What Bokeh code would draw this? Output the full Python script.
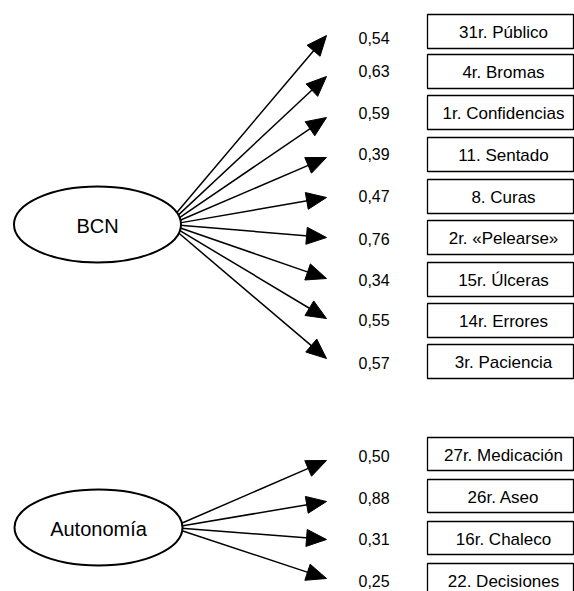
import numpy as np
from bokeh.plotting import figure
from bokeh.models import Range1d
from bokeh.embed import file_html
from bokeh.resources import INLINE
from bokeh.core.properties import value

# ---------------- data ----------------
factors = ["BCN", "Autonomía"]
bcn_items = ["31r. Público", "4r. Bromas", "1r. Confidencias", "11. Sentado",
             "8. Curas", "2r. «Pelearse»", "15r. Úlceras", "14r. Errores",
             "3r. Paciencia"]
bcn_loadings = [0.54, 0.63, 0.59, 0.39, 0.47, 0.76, 0.34, 0.55, 0.57]
aut_items = ["27r. Medicación", "26r. Aseo", "16r. Chaleco", "22. Decisiones"]
aut_loadings = [0.50, 0.88, 0.31, 0.25]

# ---------------- layout (pixel-like coordinates) ----------------
groups = [
    dict(name=factors[0], items=bcn_items, loads=bcn_loadings,
         cx=97, cy=224, ew=167, eh=76,
         tips=[35, 76, 117, 157, 197, 237, 278, 318, 358],
         labs=[37, 70, 112, 153, 195, 238, 279, 319, 362],
         tops=[14, 54, 95, 137, 179, 220, 262, 303, 344], bh=34),
    dict(name=factors[1], items=aut_items, loads=aut_loadings,
         cx=98, cy=527, ew=168, eh=76,
         tips=[460, 501, 539, 578],
         labs=[455, 497, 538, 580],
         tops=[437, 479, 521, 563], bh=33),
]
TIP_X = 326
LAB_X = 358
BOX_L, BOX_R = 427, 573
BOX_TX = 503
HEAD_L, HEAD_W = 20, 8.5
FONT = "Liberation Sans"

W, H = 574, 591
p = figure(width=W, height=H, x_range=Range1d(0, W), y_range=Range1d(H, 0),
           output_backend="svg", toolbar_location=None, min_border=0,
           x_axis_type=None, y_axis_type=None)
p.grid.visible = False
p.outline_line_color = None
p.background_fill_color = "white"
p.border_fill_color = "white"

for g in groups:
    cx, cy, a, b = g["cx"], g["cy"], g["ew"] / 2, g["eh"] / 2
    tips_y = np.array(g["tips"], dtype=float)
    sy = cy + (tips_y - cy) * 0.06
    sx = cx + a * np.sqrt(1 - ((sy - cy) / b) ** 2) - 1
    tx = np.full_like(tips_y, TIP_X)
    dx, dy = tx - sx, tips_y - sy
    ln = np.hypot(dx, dy)
    ux, uy = dx / ln, dy / ln
    bx, by = tx - ux * HEAD_L, tips_y - uy * HEAD_L
    # shafts
    p.segment(x0=sx, y0=sy, x1=bx + ux * 2, y1=by + uy * 2,
              line_color="black", line_width=1.5)
    # heads
    xs = [[tx[i], bx[i] - uy[i] * HEAD_W, bx[i] + uy[i] * HEAD_W] for i in range(len(tx))]
    ys = [[tips_y[i], by[i] + ux[i] * HEAD_W, by[i] - ux[i] * HEAD_W] for i in range(len(tx))]
    p.patches(xs=xs, ys=ys, fill_color="black", line_color="black", line_width=1)

    # ellipse
    p.ellipse(x=[cx], y=[cy], width=[g["ew"]], height=[g["eh"]],
              fill_color="white", line_color="black", line_width=2)
    p.text(x=[cx], y=[cy + 1], text=[g["name"]], text_align="center",
           text_baseline="middle", text_font=value(FONT), text_font_size="20px",
           text_color="black")

    # loading labels
    labels = [f"{v:.2f}".replace(".", ",") for v in g["loads"]]
    p.text(x=[LAB_X] * len(labels), y=g["labs"], text=labels, text_align="left",
           text_baseline="middle", text_font=value(FONT), text_font_size="16px",
           text_color="black")

    # boxes
    tops = np.array(g["tops"], dtype=float)
    bots = tops + g["bh"]
    p.quad(left=BOX_L, right=BOX_R, top=tops, bottom=bots,
           fill_color="white", line_color="black", line_width=1.3)
    p.text(x=[BOX_TX] * len(g["items"]), y=(tops + bots) / 2 + 1, text=g["items"],
           text_align="center", text_baseline="middle", text_font=value(FONT),
           text_font_size="17px", text_color="black")

open("out.html", "w").write(file_html(p, INLINE))
